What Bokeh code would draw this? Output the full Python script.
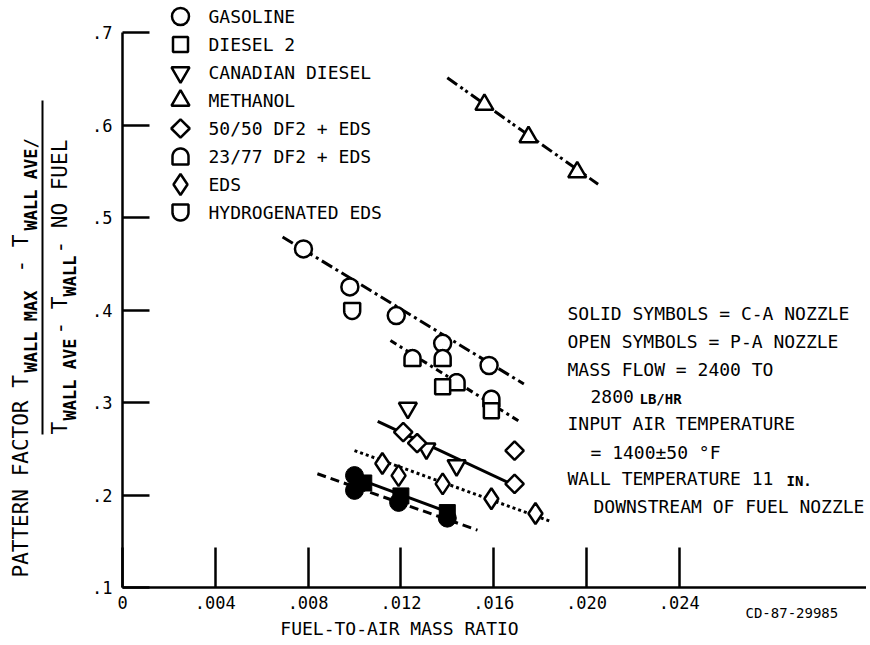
import numpy as np
from bokeh.plotting import figure
from bokeh.models import Range1d, FixedTicker, Label, Arrow
from bokeh.embed import file_html
from bokeh.resources import INLINE

# ---------------- data ----------------
# open symbols (P-A nozzle)
gas_x = [0.0078, 0.0098, 0.0118, 0.0138, 0.0158]
gas_y = [0.466, 0.425, 0.394, 0.364, 0.340]
gas_fit_x = [0.0069, 0.0173]
gas_fit_y = [0.479, 0.320]

df2_x = [0.0138, 0.0159]
df2_y = [0.317, 0.291]
mix2377_x = [0.0125, 0.0138, 0.0144, 0.0159]
mix2377_y = [0.348, 0.348, 0.322, 0.304]
df2_fit_x = [0.01155, 0.0172]
df2_fit_y = [0.367, 0.278]

can_x = [0.0123, 0.0131, 0.0144]
can_y = [0.294, 0.250, 0.232]

meth_x = [0.0156, 0.0175, 0.0196]
meth_y = [0.622, 0.587, 0.549]
meth_fit_x = [0.0140, 0.0205]
meth_fit_y = [0.651, 0.536]

mix5050_x = [0.0121, 0.0127, 0.0169, 0.0169]
mix5050_y = [0.268, 0.256, 0.248, 0.212]
mix5050_fit_x = [0.0110, 0.0168]
mix5050_fit_y = [0.2795, 0.2114]

eds_x = [0.0112, 0.0119, 0.0138, 0.0159, 0.0178]
eds_y = [0.234, 0.221, 0.212, 0.196, 0.180]
eds_fit_x = [0.0100, 0.0184]
eds_fit_y = [0.248, 0.172]

heds_x = [0.0099]
heds_y = [0.399]

# solid symbols (C-A nozzle)
gas_ca_x = [0.0100, 0.0100, 0.0119, 0.0140]
gas_ca_y = [0.221, 0.205, 0.192, 0.175]
gas_ca_fit_x = [0.0084, 0.0153]
gas_ca_fit_y = [0.223, 0.162]

df2_ca_x = [0.0104, 0.0120, 0.0140]
df2_ca_y = [0.213, 0.199, 0.181]
df2_ca_fit_x = [0.0103, 0.0142]
df2_ca_fit_y = [0.216, 0.180]

x_ticks = [0, 0.004, 0.008, 0.012, 0.016, 0.020, 0.024]
x_tick_labels = ["0", ".004", ".008", ".012", ".016", ".020", ".024"]
y_ticks = [0.1, 0.2, 0.3, 0.4, 0.5, 0.6, 0.7]
y_tick_labels = [".1", ".2", ".3", ".4", ".5", ".6", ".7"]

legend_names = ["GASOLINE", "DIESEL 2", "CANADIAN DIESEL", "METHANOL",
                "50/50 DF2 + EDS", "23/77 DF2 + EDS", "EDS", "HYDROGENATED EDS"]

# ---------------- layout ----------------
FONT = "DejaVu Sans Mono"
W, H = 866, 641
XPX = 23200.0    # pixels per unit of x
YPX = 925.0      # pixels per unit of y
X_ORG, Y_ORG = 122, 587   # pixel position of (0, 0.1)


def gx(px):  # pixel -> data x (layout helper)
    return (px - X_ORG) / XPX


def gy(py):  # pixel -> data y (layout helper)
    return 0.1 + (Y_ORG - py) / YPX


PX = 1 / XPX
PY = 1 / YPX

p = figure(width=W, height=H,
           x_range=Range1d(gx(0), gx(W)), y_range=Range1d(gy(H), gy(0)),
           output_backend="svg", toolbar_location=None,
           min_border=0, min_border_left=0, min_border_right=0,
           min_border_top=0, min_border_bottom=0)
p.background_fill_color = "white"
p.border_fill_color = "white"
p.outline_line_color = None
p.xgrid.visible = False
p.ygrid.visible = False

for ax in (p.xaxis[0], p.yaxis[0]):
    ax.axis_line_width = 2.5
    ax.axis_line_color = "black"
    ax.major_tick_line_width = 2.5
    ax.major_tick_line_color = "black"
    ax.major_tick_out = 0
    ax.minor_tick_line_color = None
    ax.major_label_text_font = FONT
    ax.major_label_text_font_size = "17px"
    ax.major_label_text_color = "black"

p.xaxis.fixed_location = 0.1
p.yaxis.fixed_location = 0
p.xaxis.ticker = FixedTicker(ticks=x_ticks)
p.xaxis.major_label_overrides = {t: l for t, l in zip(x_ticks, x_tick_labels)}
p.xaxis.major_tick_in = 40
p.xaxis.major_label_standoff = 8
p.xaxis.bounds = (0, gx(W))

p.yaxis.ticker = FixedTicker(ticks=y_ticks)
p.yaxis.major_label_overrides = {t: l for t, l in zip(y_ticks, y_tick_labels)}
p.yaxis.major_tick_in = 27
p.yaxis.major_label_standoff = 10
p.yaxis.bounds = (0.1, 0.7)

# ---------------- fit lines ----------------
LW = 3
p.line(gas_fit_x, gas_fit_y, line_width=LW, color="black", line_dash="12 4 3 4")
p.line(meth_fit_x, meth_fit_y, line_width=LW, color="black", line_dash="12 4 3 3 3 4")
p.line(df2_fit_x, df2_fit_y, line_width=LW, color="black", line_dash="7 4 3 4")
p.line(mix5050_fit_x, mix5050_fit_y, line_width=LW, color="black")
p.line(eds_fit_x, eds_fit_y, line_width=LW, color="black", line_dash="3 3")
p.line(gas_ca_fit_x, gas_ca_fit_y, line_width=LW, color="black", line_dash="9 5")
p.line(df2_ca_fit_x, df2_ca_fit_y, line_width=LW, color="black")


# ---------------- markers ----------------
def d_shapes(xs, ys, r=8, round_top=True):
    t = np.linspace(0, np.pi, 24)
    ox = list(r * np.cos(t)) + [-r, r]
    oy = list(r * np.sin(t)) + [-r, -r]
    if not round_top:
        oy = [-v for v in oy]
    return ([[x + a * PX for a in ox] for x in xs],
            [[y + b * PY for b in oy] for y in ys])


MLW = 2.5
open_kw = dict(fill_color="white", line_color="black", line_width=MLW)


def draw_series(xs, ys, kind):
    if kind == "circle":
        p.scatter(xs, ys, marker="circle", size=17, **open_kw)
    elif kind == "square":
        p.scatter(xs, ys, marker="square", size=15, **open_kw)
    elif kind == "inv":
        p.scatter(xs, ys, marker="inverted_triangle", size=18, **open_kw)
    elif kind == "tri":
        p.scatter(xs, ys, marker="triangle", size=18, **open_kw)
    elif kind == "dia":
        p.scatter(xs, ys, marker="square", angle=np.pi / 4, size=13, **open_kw)
    elif kind == "top":
        a, b = d_shapes(xs, ys, round_top=True)
        p.patches(a, b, **open_kw)
    elif kind == "eds":
        p.scatter(xs, ys, marker="diamond", size=21, **open_kw)
    elif kind == "bot":
        a, b = d_shapes(xs, ys, round_top=False)
        p.patches(a, b, **open_kw)


draw_series(gas_x, gas_y, "circle")
draw_series(meth_x, meth_y, "tri")
draw_series(mix2377_x, mix2377_y, "top")
draw_series(df2_x, df2_y, "square")
draw_series(can_x, can_y, "inv")
draw_series(mix5050_x, mix5050_y, "dia")
draw_series(eds_x, eds_y, "eds")
draw_series(heds_x, heds_y, "bot")

p.scatter(gas_ca_x, gas_ca_y, marker="circle", size=18, fill_color="black",
          line_color="black", line_width=1)
p.scatter(df2_ca_x, df2_ca_y, marker="square", size=16, fill_color="black",
          line_color="black", line_width=1)


# ---------------- texts ----------------
def lab(px, py, text, size="18px", style="normal", align="left", angle=0.0):
    p.add_layout(Label(x=gx(px), y=gy(py), text=text, text_font=FONT,
                       text_font_size=size, text_font_style=style,
                       text_color="black", text_align=align,
                       text_baseline="middle", angle=angle))


# legend
kinds = ["circle", "square", "inv", "tri", "dia", "top", "eds", "bot"]
for i, (name, kind) in enumerate(zip(legend_names, kinds)):
    row = 16 + 28 * i
    draw_series([gx(180)], [gy(row)], kind)
    lab(208, row, name, size="18px")

# annotation block
lab(567, 313, "SOLID SYMBOLS = C-A NOZZLE")
lab(567, 341, "OPEN SYMBOLS = P-A NOZZLE")
lab(567, 369, "MASS FLOW = 2400 TO")
lab(590, 396, "2800")
lab(639, 398, "LB/HR", size="14px", style="bold")
lab(567, 423, "INPUT AIR TEMPERATURE")
lab(590, 452, "= 1400\u00b150 \u00b0F")
lab(567, 478, "WALL TEMPERATURE 11")
lab(786, 480, "IN.", size="14px", style="bold")
lab(593, 506, "DOWNSTREAM OF FUEL NOZZLE")

lab(745, 612, "CD-87-29985", size="14px")
lab(399, 628, "FUEL-TO-AIR MASS RATIO", size="18px", align="center")

# y axis title (a fraction, written bottom to top)
A = np.pi / 2
lab(20, 577, "PATTERN FACTOR T", size="21px", angle=A)
lab(30, 372, "WALL MAX", size="17px", style="bold", angle=A)
lab(20, 272, "- T", size="21px", angle=A)
lab(30, 230, "WALL AVE/", size="17px", style="bold", angle=A)
lab(59, 434, "T", size="21px", angle=A)
lab(69, 420, "WALL AVE", size="17px", style="bold", angle=A)
lab(59, 334, "- T", size="21px", angle=A)
lab(69, 296, "WALL", size="17px", style="bold", angle=A)
lab(59, 253, "- NO FUEL", size="21px", angle=A)

p.add_layout(Arrow(end=None, x_start=gx(42), y_start=gy(434),
                   x_end=gx(42), y_end=gy(100), line_width=2, line_color="black"))

open("out.html", "w").write(file_html(p, INLINE))
